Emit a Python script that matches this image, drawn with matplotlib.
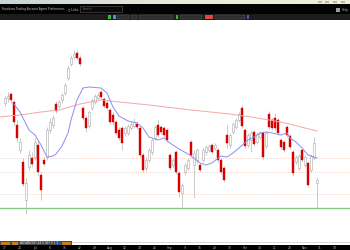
"""
Candlestick chart screenshot recreation (350x250)
- 일봉 캔들 + 단기 이동평균(보라) + 장기 이동평균(분홍)
- 상/하단 툴바 영역은 픽셀 좌표 오버레이 축에 그림
"""

import matplotlib
matplotlib.use("Agg")
import matplotlib.pyplot as plt
from matplotlib.patches import Rectangle
import numpy as np

# ---- 캔들 데이터 (가격 단위) ----
opens = [147, 152, 156, 148, 125, 100, 88, 50, 83, 92, 93, 105, 75, 90, 93, 120, 125,
         146, 144, 150, 157, 172, 186, 193, 197, 192, 142, 132, 124, 142, 148, 152, 158,
         151, 147, 140, 135, 128, 120, 122, 117, 117, 122, 124, 126, 122, 95, 82, 90, 98,
         112, 125, 123, 122, 120, 95, 85, 98, 77, 57, 78, 82, 108, 85, 90, 85, 90, 98, 100,
         105, 102, 100, 90, 82, 115, 105, 118, 123, 130, 142, 120, 105, 110, 118, 108, 113,
         117, 104, 136, 130, 132, 130, 110, 108, 123, 114, 98, 88, 82, 100, 85, 87, 80, 92, 67]
closes = [152, 154, 150, 128, 112, 108, 66, 67, 95, 86, 108, 78, 60, 86, 120, 128, 132,
          139, 148, 155, 165, 182, 192, 196, 192, 186, 132, 122, 138, 150, 154, 155, 153,
          144, 142, 128, 128, 117, 112, 107, 122, 124, 126, 128, 123, 95, 80, 90, 100, 110,
          123, 115, 118, 115, 110, 82, 90, 78, 58, 65, 85, 90, 95, 97, 100, 80, 100, 103, 104,
          98, 105, 90, 78, 70, 107, 115, 126, 130, 136, 124, 104, 115, 117, 106, 116, 117,
          93, 117, 123, 122, 122, 117, 103, 100, 115, 103, 77, 93, 94, 90, 93, 65, 94, 107, 70]
highs = [155, 158, 158, 150, 130, 112, 92, 72, 100, 98, 112, 110, 78, 93, 123, 132, 135,
         149, 150, 157, 167, 185, 195, 200, 200, 195, 144, 135, 140, 152, 156, 158, 160,
         153, 150, 142, 138, 130, 123, 124, 124, 126, 129, 132, 129, 124, 97, 93, 102, 112,
         125, 130, 125, 124, 122, 97, 92, 100, 79, 67, 87, 92, 110, 100, 102, 87, 102, 105, 106,
         107, 107, 102, 92, 84, 125, 117, 128, 132, 138, 145, 122, 117, 119, 120, 118, 119,
         119, 119, 139, 132, 137, 132, 112, 110, 125, 116, 100, 95, 96, 102, 95, 89, 96, 113, 72]
lows = [144, 148, 147, 125, 108, 97, 64, 36, 80, 83, 90, 75, 50, 84, 90, 117, 122,
        137, 142, 147, 155, 170, 184, 191, 190, 184, 130, 118, 122, 140, 146, 150, 151,
        142, 140, 126, 125, 115, 110, 100, 114, 115, 120, 122, 121, 93, 78, 79, 88, 95,
        110, 113, 116, 113, 108, 80, 83, 76, 53, 43, 75, 80, 93, 52, 87, 78, 88, 95, 98,
        96, 100, 88, 76, 68, 102, 102, 116, 121, 128, 122, 102, 103, 98, 104, 106, 111,
        91, 102, 121, 120, 120, 115, 101, 98, 113, 101, 75, 86, 80, 88, 83, 63, 78, 90, 42]

# ---- 이동평균선 (화면에서 읽은 값) ----
ma_short_idx = [3, 5, 7, 8, 10, 12, 14, 16, 17, 19, 21, 22, 24, 26, 28, 32, 34, 36, 38, 41,
                44, 46, 48, 51, 53, 55, 58, 61, 63, 65, 67, 69, 72, 74, 76, 78, 81, 83, 85,
                87, 89, 92, 94, 95, 97, 99, 101, 104]
ma_short = [146, 138, 126, 120, 115, 105, 93, 94, 96, 104, 117, 130, 150, 162, 163, 162, 157,
            143, 134, 129, 127, 122, 113, 110, 112, 107, 101, 96, 92, 87, 85, 87, 94, 93, 97,
            102, 110, 113, 117, 118, 117, 115, 117, 112, 108, 102, 95, 92]
ma_long_idx = [-2, 5, 12, 18, 25, 32, 35, 48, 62, 75, 82, 92, 104]
ma_long = [133, 135, 138, 140, 146, 150, 149, 145, 140, 136, 133, 128, 119]

# ---- 수평선 ----
dotted_levels = [92, 78, 56]
support_level = 42

# 하단 날짜 라벨
tick_idx = list(range(0, 115, 5))
tick_labels = ["17", "24", "Jul", "8", "15", "22", "29", "Aug", "12", "19", "26", "Sep",
               "9", "16", "23", "30", "Oct", "14", "21", "28", "Nov", "11", "18"]

W, H = 350, 250
fig = plt.figure(figsize=(3.5, 2.5), dpi=100)

# 픽셀 좌표 오버레이 (툴바, 상태바)
bg = fig.add_axes([0, 0, 1, 1])
bg.set_xlim(0, W)
bg.set_ylim(H, 0)
bg.axis("off")

# 상단 타이틀바 그라데이션
grad = np.linspace(0, 1, 256).reshape(1, -1)
cmap = matplotlib.colors.LinearSegmentedColormap.from_list("tb", ["#c9d3d6", "#e8ecdc", "#f2efd6"])
bg.imshow(grad, extent=(0, W, 4, 0), aspect="auto", cmap=cmap)
for x in [318, 325, 333, 341]:
    bg.add_patch(Rectangle((x, 0.8), 3.5, 2.5, color="#b8b8a8", lw=0))

# 메뉴바
bg.add_patch(Rectangle((0, 4), W, 9.5, color="#030303", lw=0))
bg.text(2, 9, "Functions Trading Account Agent Preferences", fontsize=2.0,
        color="#c8c8c8", va="center", ha="left")
bg.text(68, 9, "\u25cb Links", fontsize=2.0, color="#c8c8c8", va="center")
bg.add_patch(Rectangle((80, 6), 42, 6, fc="#0a0a0a", ec="#555555", lw=0.4))
bg.text(83, 9, "Search", fontsize=2.0, color="#666666", va="center")
bg.add_patch(Rectangle((336, 7.5), 4, 4, color="#9a9a9a", lw=0))
bg.text(342, 9.5, "Help", fontsize=2.2, color="#aaaaaa", va="center")

# 차트 툴바
bg.add_patch(Rectangle((0, 13.5), W, 6.5, color="#1c1c1c", lw=0))
bg.add_patch(Rectangle((108, 14.8), 2.5, 3.8, color="#3bb33b", lw=0))
bg.add_patch(Rectangle((113, 14.8), 2.5, 3.8, color="#4a90d0", lw=0))
for x0, w in [(117, 12), (131, 6), (139, 34), (180, 22), (215, 30)]:
    bg.add_patch(Rectangle((x0, 14.8), w, 3.8, fc="#2e2e2e", ec="#5a5a5a", lw=0.3))
bg.add_patch(Rectangle((205, 14.5), 8, 4.5, color="#e04848", lw=0))
bg.add_patch(Rectangle((247, 15), 2, 3.5, color="#7a3ad0", lw=0))
bg.add_patch(Rectangle((176, 14.8), 2, 3.8, color="#3bb33b", lw=0))

# 하단 상태바 / 날짜축
bg.add_patch(Rectangle((0, 241), 72, 4, color="#4a4a4a", lw=0))
bg.add_patch(Rectangle((1, 241.5), 9, 3, color="#c08020", lw=0))
bg.add_patch(Rectangle((12, 241.5), 6, 3, color="#c08020", lw=0))
bg.add_patch(Rectangle((56, 241.5), 5, 3, color="#3050a0", lw=0))
bg.add_patch(Rectangle((62, 241.5), 9, 3, color="#c08020", lw=0))
bg.text(20, 243, "ADVANCED 44 5 NH 3 1 5", fontsize=2.2, color="#dddddd", va="center")
bg.add_patch(Rectangle((72, 241.5), W - 72, 1.2, color="#d8d8d8", lw=0))
bg.add_patch(Rectangle((0, 245), W, 5, color="#000000", lw=0))

# 메인 차트 축 (픽셀 y 20~241)
ax = fig.add_axes([0, (H - 241) / H, 1, 221 / H])
ax.set_facecolor("white")
x0_px, dx_px = 5.0, 3.0
ax.set_xlim(-x0_px / dx_px, (W - x0_px) / dx_px)
ax.set_ylim(250 - 241, 250 - 20)
ax.axis("off")

for lvl in dotted_levels:
    ax.axhline(lvl, color="#f2c4b4", lw=0.6, ls=(0, (1, 1.5)), zorder=1)
ax.axhline(support_level, color="#86c986", lw=1.0, zorder=1)

idx = np.arange(len(opens))
o, c, h, l = map(np.array, (opens, closes, highs, lows))
ax.vlines(idx, l, h, color="#b4b4b4", lw=0.5, zorder=2)
up = c >= o
ax.bar(idx[up], (c - o)[up], bottom=o[up], width=0.65, color="white",
       edgecolor="#a8a8a8", lw=0.4, zorder=3)
ax.bar(idx[~up], (o - c)[~up], bottom=c[~up], width=0.65, color="#e00000",
       edgecolor="#c80000", lw=0.3, zorder=3)

ax.plot(ma_long_idx, ma_long, color="#f3a8a8", lw=0.7, zorder=4)
ax.plot(ma_short_idx, ma_short, color="#8c8cf0", lw=0.7, zorder=4)

# 날짜 라벨 (검은 띠 위)
for ti, lab in zip(tick_idx, tick_labels):
    px = x0_px + ti * dx_px
    if px < W - 2:
        bg.text(px, 247.8, lab, fontsize=2.2, color="#bbbbbb", ha="center", va="center")

fig.savefig("out.png", dpi=100)
